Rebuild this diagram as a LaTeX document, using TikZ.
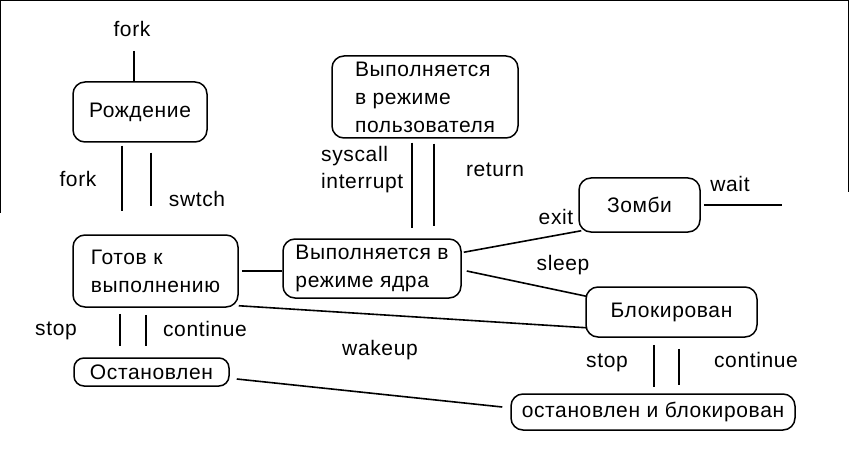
\documentclass[tikz,border=0pt]{standalone}
\usepackage{fontspec}
\setmainfont{Liberation Sans}[LetterSpace=3]
\usetikzlibrary{calc}
\begin{document}
\begin{tikzpicture}[x=1pt,y=-1pt,
  every node/.style={font=\fontsize{21}{28}\selectfont, inner sep=0pt},
  state/.style={draw, line width=1.5pt, rounded corners=12pt, align=left},
  conn/.style={line width=1.6pt},
  lbl/.style={anchor=base},
  frame/.style={line width=1.2pt}]
\useasboundingbox (0,0) rectangle (852,468);
\fill[white] (0,0) rectangle (852,468);
% frame
\draw[frame] (0.6,213) -- (0.6,0.6) -- (848.5,0.6) -- (848.5,192);
% states
\node[state, minimum width=134, minimum height=60] (rod) at (140,112) {Рождение};
\node[state, minimum width=165, minimum height=72] (got) at (155.5,271) {Готов к\\выполнению};
\node[state, minimum width=178, minimum height=59] (kern) at (372,268.5) {Выполняется в\\режиме ядра};
\node[state, minimum width=186, minimum height=82] (user) at (425,97) {Выполняется\\в режиме\\пользователя};
\node[state, minimum width=121, minimum height=54] (zom) at (639.5,205) {Зомби};
\node[state, minimum width=171, minimum height=50] (blk) at (671.5,312) {Блокирован};
\node[state, minimum width=155, minimum height=28, rounded corners=10pt] (stp) at (151.5,372) {Остановлен};
\node[state, minimum width=284, minimum height=36] (sb) at (653,412) {остановлен и блокирован};
% labels
\node[lbl] (lforkin) at (132,37) {fork};
\node[lbl] (lfork) at (78,187) {fork};
\node[lbl] (lswtch) at (197,207) {swtch};
\node[anchor=base west, align=left, font=\fontsize{21}{27}\selectfont] (lsys) at (321,189) {syscall\\interrupt};
\node[lbl] (lret) at (495,177) {return};
\node[lbl] (lexit) at (556,225) {exit};
\node[lbl] (lwait) at (730,192) {wait};
\node[lbl] (lsleep) at (563,270) {sleep};
\node[lbl] (lstop1) at (56,335) {stop};
\node[lbl] (lcont1) at (205,336) {continue};
\node[lbl] (lwake) at (380,355) {wakeup};
\node[lbl] (lstop2) at (607,367) {stop};
\node[lbl] (lcont2) at (756,367) {continue};
% connectors
\coordinate (forkin) at (134,51);
\draw[conn] (forkin) -- (forkin |- rod.north);
\draw[conn] ($(rod.south)+(-18,3)$) -- ($(got.north)+(-33.5,-23)$);
\draw[conn] ($(rod.south)+(11,10)$) -- ($(got.north)+(-4.5,-28)$);
\draw[conn] ($(got.east)+(3,0)$) -- (kern.west |- got.east);
\draw[conn] ($(got.south east)+(0,-2)$) -- ($(blk.south west)+(1,-10)$);
\draw[conn] ($(user.south)+(-13,4)$) -- ($(kern.north)+(40,-10)$);
\draw[conn] ($(user.south)+(9,5)$) -- ($(kern.north)+(62,-12)$);
\draw[conn] ($(kern.north east)+(2,14)$) -- ($(zom.south west)+(3,-2)$);
\draw[conn] ($(kern.east)+(5,2.5)$) -- ($(blk.north west)+(1,10)$);
\coordinate (waitout) at (782,205);
\draw[conn] ($(zom.east)+(3,0)$) -- (waitout);
\draw[conn] ($(got.south)+(-35.5,6)$) -- ($(stp.north)+(-31.5,-11)$);
\draw[conn] ($(got.south)+(-9.5,7)$) -- ($(stp.north)+(-5.5,-11)$);
\draw[conn] ($(stp.east)+(7,7)$) -- ($(sb.west)+(-8,-5)$);
\draw[conn] ($(blk.south)+(-17.5,7)$) -- ($(sb.north)+(1,-6)$);
\draw[conn] ($(blk.south)+(7.5,11)$) -- ($(sb.north)+(26,-8)$);
\end{tikzpicture}
\end{document}
